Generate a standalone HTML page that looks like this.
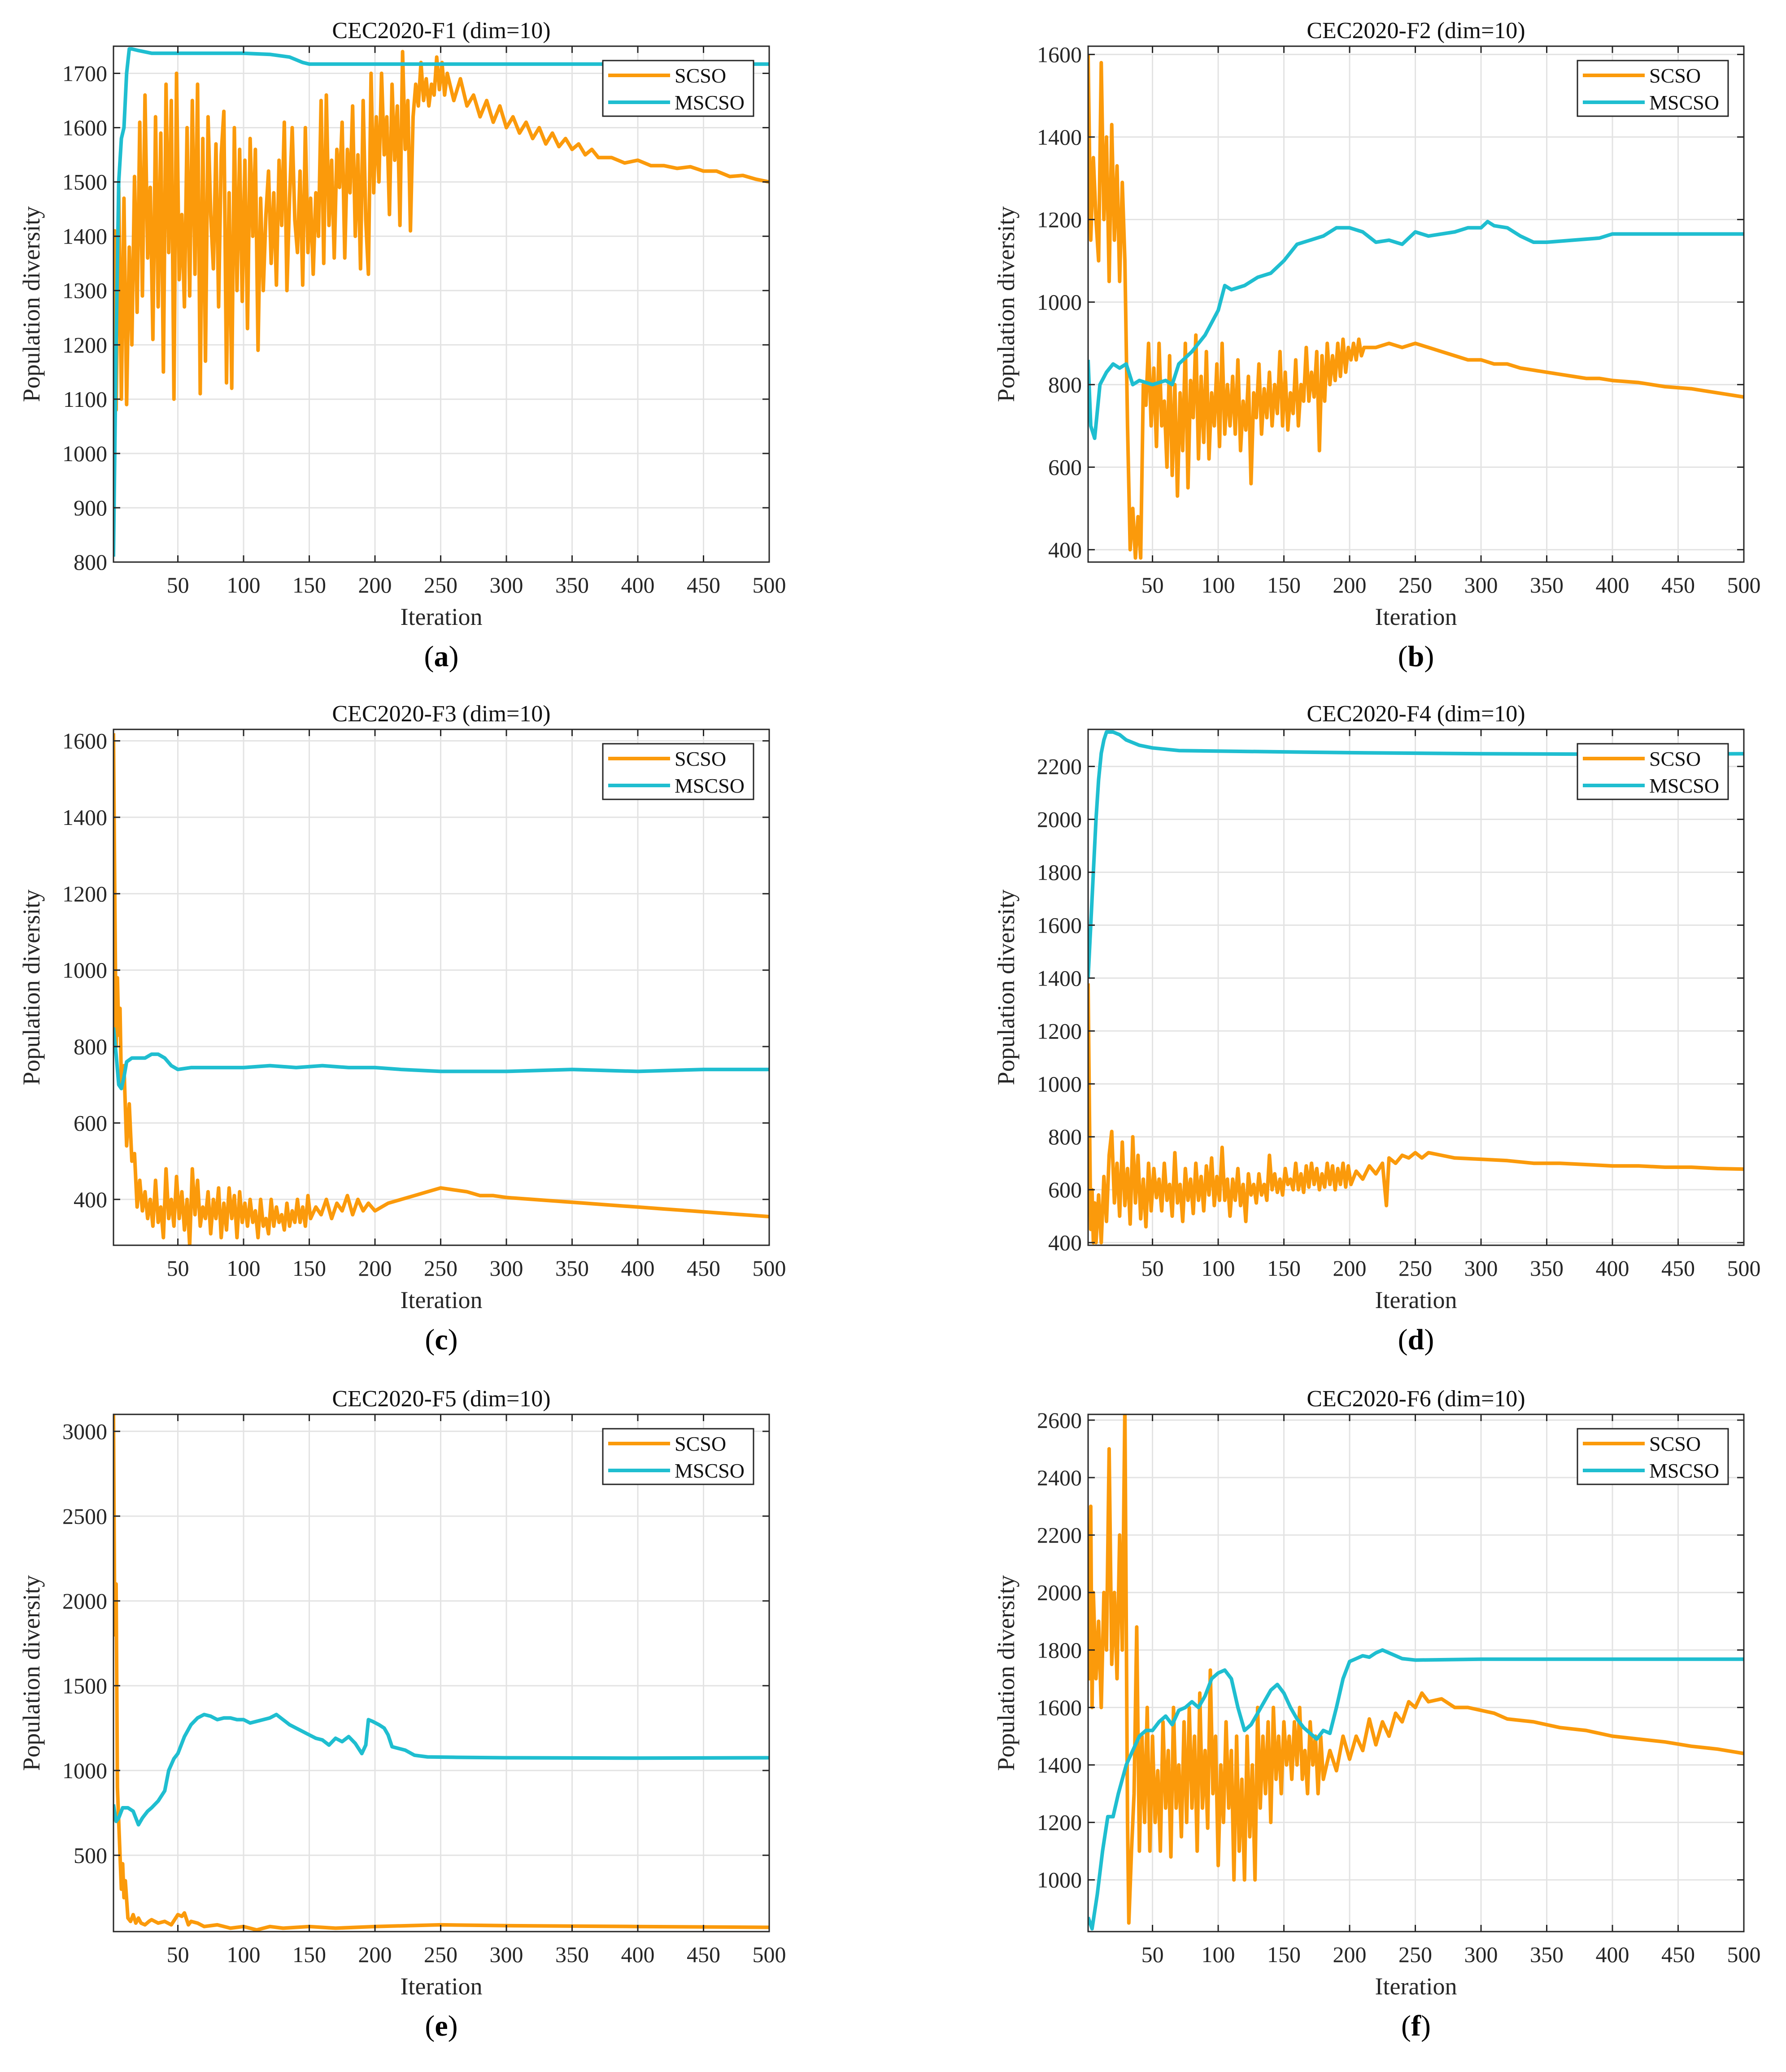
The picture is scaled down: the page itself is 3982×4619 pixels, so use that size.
<!DOCTYPE html>
<html><head><meta charset="utf-8">
<style>
html,body{margin:0;padding:0;background:#fff;}
svg{display:block;font-family:"Liberation Serif",serif;}
</style></head>
<body>
<svg id="fig" width="3982" height="4619" viewBox="0 0 3982 4619" xmlns="http://www.w3.org/2000/svg"></svg>
<script>
// ---------- data ----------
const xTicks = [50,100,150,200,250,300,350,400,450,500];
const titles = ["CEC2020-F1 (dim=10)","CEC2020-F2 (dim=10)","CEC2020-F3 (dim=10)","CEC2020-F4 (dim=10)","CEC2020-F5 (dim=10)","CEC2020-F6 (dim=10)"];
const panelLabels = ["a","b","c","d","e","f"];
const yRanges = [[800,1750],[370,1620],[280,1630],[390,2340],[50,3100],[820,2620]];
const yTicksA = [800,900,1000,1100,1200,1300,1400,1500,1600,1700];
const yTicksB = [400,600,800,1000,1200,1400,1600];
const yTicksC = [400,600,800,1000,1200,1400,1600];
const yTicksD = [400,600,800,1000,1200,1400,1600,1800,2000,2200];
const yTicksE = [500,1000,1500,2000,2500,3000];
const yTicksF = [1000,1200,1400,1600,1800,2000,2200,2400,2600];

const scsoX_A = [1,2,3,5,7,9,11,13,15,17,19,21,23,25,27,29,31,33,35,37,39,41,43,45,47,49,51,53,55,57,59,61,63,65,67,69,71,73,75,77,79,81,83,85,87,89,91,93,95,97,99,101,103,105,107,109,111,113,115,117,119,121,123,125,127,129,131,133,135,137,139,141,143,145,147,149,151,153,155,157,159,161,163,165,167,169,171,173,175,177,179,181,183,185,187,189,191,193,195,197,199,201,203,205,207,209,211,213,215,217,219,221,223,225,227,229,231,233,235,237,239,241,243,245,247,249,251,253,255,260,265,270,275,280,285,290,295,300,305,310,315,320,325,330,335,340,345,350,355,360,365,370,380,390,400,410,420,430,440,450,460,470,480,490,500];
const scsoY_A = [1300,1410,1080,1490,1100,1470,1090,1380,1200,1510,1260,1610,1290,1660,1360,1490,1210,1620,1270,1590,1150,1680,1370,1650,1100,1700,1320,1440,1270,1600,1290,1650,1330,1680,1110,1580,1170,1620,1440,1340,1570,1270,1550,1630,1130,1480,1120,1600,1300,1560,1280,1540,1230,1580,1400,1560,1190,1470,1300,1440,1520,1350,1480,1310,1540,1420,1610,1300,1470,1600,1430,1370,1520,1310,1600,1370,1470,1330,1480,1400,1650,1350,1660,1420,1540,1360,1560,1490,1610,1360,1560,1480,1640,1400,1550,1340,1650,1430,1330,1700,1480,1620,1500,1700,1550,1620,1440,1680,1540,1640,1420,1740,1560,1650,1410,1620,1680,1640,1720,1650,1690,1640,1680,1660,1730,1670,1720,1660,1700,1650,1690,1640,1660,1620,1650,1610,1640,1600,1620,1590,1610,1580,1600,1570,1590,1565,1580,1560,1570,1550,1560,1545,1545,1535,1540,1530,1530,1525,1528,1520,1520,1510,1512,1505,1500];
const mscsoX_A = [1,3,5,7,9,11,13,15,20,30,60,100,120,135,145,150,500];
const mscsoY_A = [810,1200,1500,1580,1600,1700,1745,1745,1742,1737,1737,1737,1735,1730,1720,1717,1717];

const scsoX_B = [1,3,5,7,9,11,13,15,17,19,21,23,25,27,29,31,33,35,37,39,41,43,45,47,49,51,53,55,57,59,61,63,65,67,69,71,73,75,77,79,81,83,85,87,89,91,93,95,97,99,101,103,105,107,109,111,113,115,117,119,121,123,125,127,129,131,133,135,137,139,141,143,145,147,149,151,153,155,157,159,161,163,165,167,169,171,173,175,177,179,181,183,185,187,189,191,193,195,197,199,201,203,205,207,209,211,220,230,240,250,260,270,280,290,300,310,320,330,340,350,360,370,380,390,400,420,440,460,480,500];
const scsoY_B = [1600,1150,1350,1200,1100,1580,1200,1400,1050,1430,1150,1330,1050,1290,1100,700,400,500,380,480,380,800,750,900,700,840,650,900,700,760,600,870,580,800,530,780,640,900,550,810,720,920,620,820,660,880,620,780,700,850,650,900,680,800,700,820,680,860,640,760,690,820,560,780,720,850,680,790,720,830,700,800,730,880,700,830,690,780,730,860,700,800,760,890,760,830,770,880,640,870,760,900,800,870,810,900,820,910,830,890,860,900,860,910,870,890,890,900,890,900,890,880,870,860,860,850,850,840,835,830,825,820,815,815,810,805,795,790,780,770];
const mscsoX_B = [1,3,6,10,15,20,25,30,35,40,50,60,65,70,80,90,100,105,110,120,130,140,150,160,170,180,190,200,210,220,230,240,250,260,270,280,290,300,305,310,320,330,340,350,370,390,400,500];
const mscsoY_B = [860,700,670,800,830,850,840,850,800,810,800,810,800,850,880,920,980,1040,1030,1040,1060,1070,1100,1140,1150,1160,1180,1180,1170,1145,1150,1140,1170,1160,1165,1170,1180,1180,1195,1185,1180,1160,1145,1145,1150,1155,1165,1165];

const scsoX_C = [1,2,3,4,5,6,7,9,11,13,15,17,19,21,23,25,27,29,31,33,35,37,39,41,43,45,47,49,51,53,55,57,59,61,63,65,67,69,71,73,75,77,79,81,83,85,87,89,91,93,95,97,99,101,103,105,107,109,111,113,115,117,119,121,123,125,127,129,131,133,135,137,139,141,143,145,147,149,151,155,159,163,167,171,175,179,183,187,191,195,200,210,220,230,240,250,260,270,280,290,300,320,340,360,380,400,420,440,460,480,500];
const scsoY_C = [1620,1200,800,980,830,900,700,750,540,650,500,520,380,450,370,420,350,400,330,450,340,380,300,480,350,400,330,460,350,420,320,400,280,480,360,450,330,380,350,420,310,400,350,430,300,390,320,430,350,410,300,420,340,390,330,400,340,370,300,400,330,350,310,400,330,380,340,360,320,390,330,370,340,400,340,380,330,410,350,380,360,400,350,390,370,410,360,400,370,390,370,390,400,410,420,430,425,420,410,410,405,400,395,390,385,380,375,370,365,360,355];
const mscsoX_C = [1,3,5,7,9,11,15,20,25,30,35,40,45,50,60,80,100,120,140,160,180,200,220,250,300,350,400,450,500];
const mscsoY_C = [850,780,700,690,720,760,770,770,770,780,780,770,750,740,745,745,745,750,745,750,745,745,740,735,735,740,735,740,740];

const scsoX_D = [1,2,3,4,5,6,7,9,11,13,15,17,19,21,23,25,27,29,31,33,35,37,39,41,43,45,47,49,51,53,55,57,59,61,63,65,67,69,71,73,75,77,79,81,83,85,87,89,91,93,95,97,99,101,103,105,107,109,111,113,115,117,119,121,123,125,127,129,131,133,135,137,139,141,143,145,147,149,151,153,155,157,159,161,163,165,167,169,171,173,175,177,179,181,183,185,187,189,191,193,195,197,199,201,205,210,215,220,225,228,230,235,240,245,250,255,260,270,280,300,320,340,360,380,400,420,440,460,480,500];
const scsoY_D = [1380,900,450,600,400,550,400,580,400,650,480,730,820,550,700,500,780,540,680,470,800,550,730,490,640,460,700,520,680,570,640,520,700,560,620,500,740,550,620,480,680,560,640,510,700,560,650,520,690,580,720,540,650,560,760,560,640,500,640,560,680,540,620,480,660,580,620,550,660,580,620,560,730,600,660,590,640,580,680,620,640,600,700,600,660,590,690,610,700,620,680,600,660,610,700,620,690,600,680,620,700,610,690,620,670,640,690,660,700,540,720,700,730,720,740,720,740,730,720,715,710,700,700,695,690,690,685,685,680,678];
const mscsoX_D = [1,3,5,7,9,11,13,15,20,25,30,40,50,70,100,150,200,300,400,500];
const mscsoY_D = [1400,1600,1800,2000,2150,2250,2300,2330,2330,2320,2300,2280,2270,2260,2258,2255,2252,2248,2246,2248];

const scsoX_E = [1,2,3,4,5,6,7,8,9,10,12,14,16,18,20,22,25,28,30,35,40,45,50,53,55,58,60,65,70,80,90,100,110,120,130,150,170,200,250,300,400,500];
const scsoY_E = [3100,1800,2100,900,700,500,300,450,250,350,130,110,150,100,130,100,90,110,120,100,110,90,150,140,160,90,110,100,80,90,70,80,60,80,70,80,70,80,90,85,80,75];
const mscsoX_E = [1,3,5,8,12,16,18,20,23,27,30,35,40,43,47,50,55,60,65,70,75,80,85,90,95,100,105,110,115,120,125,130,135,140,145,150,155,160,165,170,175,180,185,190,193,195,198,203,207,210,213,218,223,230,240,260,300,400,500];
const mscsoY_E = [800,700,720,780,780,760,720,680,720,760,780,820,880,1000,1070,1100,1200,1270,1310,1330,1320,1300,1310,1310,1300,1300,1280,1290,1300,1310,1330,1300,1270,1250,1230,1210,1190,1180,1150,1190,1170,1200,1160,1100,1150,1300,1290,1270,1250,1210,1140,1130,1120,1090,1080,1078,1075,1073,1075];

const scsoX_F = [1,2,3,4,5,7,9,11,13,15,17,19,21,23,25,27,29,31,32,34,36,38,40,42,44,46,48,50,52,54,56,58,60,62,64,66,68,70,72,74,76,78,80,82,84,86,88,90,92,94,96,98,100,102,104,106,108,110,112,114,116,118,120,122,124,126,128,130,132,134,136,138,140,142,144,146,148,150,152,154,156,158,160,162,164,166,168,170,172,174,176,178,180,185,190,195,200,205,210,215,220,225,230,235,240,245,250,255,260,270,280,290,300,310,320,340,360,380,400,420,440,460,480,500];
const scsoY_F = [1900,1700,2300,1600,2000,1700,1900,1600,2000,1800,2500,1750,2000,1700,2200,1800,2650,1200,850,1100,1300,1880,1100,1500,1200,1600,1100,1500,1200,1380,1100,1550,1250,1450,1080,1600,1250,1400,1150,1550,1200,1600,1250,1500,1100,1650,1250,1450,1180,1730,1300,1500,1050,1400,1200,1550,1250,1450,1000,1500,1100,1350,1000,1500,1150,1400,1000,1600,1250,1500,1300,1550,1200,1600,1350,1500,1300,1550,1400,1500,1350,1550,1400,1600,1350,1450,1300,1550,1400,1500,1300,1500,1350,1450,1380,1500,1420,1500,1450,1560,1470,1550,1500,1580,1550,1620,1600,1650,1620,1630,1600,1600,1590,1580,1560,1550,1530,1520,1500,1490,1480,1465,1455,1440];
const mscsoX_F = [1,4,8,12,16,20,24,30,35,40,45,50,55,60,65,70,75,80,85,90,95,100,105,110,115,120,125,130,135,140,145,150,155,160,165,170,175,180,185,190,195,200,205,210,215,220,225,230,235,240,250,300,400,500];
const mscsoY_F = [870,830,950,1100,1220,1220,1300,1400,1450,1500,1520,1520,1550,1570,1540,1590,1600,1620,1600,1640,1700,1720,1730,1700,1600,1520,1540,1580,1620,1660,1680,1650,1600,1560,1530,1510,1490,1520,1510,1600,1700,1760,1770,1780,1775,1790,1800,1790,1780,1770,1765,1768,1768,1768];

// ---------- layout ----------
const svg = document.getElementById('fig');
const NS = 'http://www.w3.org/2000/svg';
const colX = [[253,1715],[2426,1715+2173]];
const rowY = [[103,1253],[1626,2776],[3153,4306]];
const yTickSets = [yTicksA,yTicksB,yTicksC,yTicksD,yTicksE,yTicksF];
const series = [
  [scsoX_A,scsoY_A,mscsoX_A,mscsoY_A],
  [scsoX_B,scsoY_B,mscsoX_B,mscsoY_B],
  [scsoX_C,scsoY_C,mscsoX_C,mscsoY_C],
  [scsoX_D,scsoY_D,mscsoX_D,mscsoY_D],
  [scsoX_E,scsoY_E,mscsoX_E,mscsoY_E],
  [scsoX_F,scsoY_F,mscsoX_F,mscsoY_F]
];
const ORANGE = '#fb9a0b', CYAN = '#1fbed0';

function el(tag, attrs, parent){
  const e = document.createElementNS(NS, tag);
  for (const k in attrs) e.setAttribute(k, attrs[k]);
  (parent||svg).appendChild(e);
  return e;
}

for (let p = 0; p < 6; p++) {
  const [L, R] = colX[p % 2];
  const [T, B] = rowY[Math.floor(p / 2)];
  const [ymin, ymax] = yRanges[p];
  const sx = v => L + (v - 1) / 499 * (R - L);
  const sy = v => B - (v - ymin) / (ymax - ymin) * (B - T);
  const g = el('g', {});
  
  

  // grid
  for (const t of xTicks) {
    const ln = el('line', {x1:sx(t), x2:sx(t), y1:T, y2:B, stroke:'#e3e3e3', 'stroke-width':3}, g);
    
    
  }
  for (const t of yTickSets[p]) {
    const ln = el('line', {x1:L, x2:R, y1:sy(t), y2:sy(t), stroke:'#e3e3e3', 'stroke-width':3}, g);
    
    
  }
  // series
  const clipId = 'clip' + p;
  const cp = el('clipPath', {id: clipId}, g);
  el('rect', {x:L, y:T, width:R-L, height:B-T}, cp);
  const s = series[p];
  const mk = (xs, ys, color, name) => {
    let d = '';
    for (let i = 0; i < xs.length; i++) d += (i ? 'L' : 'M') + sx(xs[i]).toFixed(1) + ',' + sy(ys[i]).toFixed(1);
    const path = el('path', {d:d, fill:'none', stroke:color, 'stroke-width':8, 'stroke-linejoin':'round', 'clip-path':'url(#'+clipId+')'}, g);
    
    
  };
  mk(s[0], s[1], ORANGE, 'scso-line');
  mk(s[2], s[3], CYAN, 'mscso-line');

  // axes box
  const box = el('rect', {x:L, y:T, width:R-L, height:B-T, fill:'none', stroke:'#262626', 'stroke-width':3}, g);
  
  

  // ticks + labels
  for (const t of xTicks) {
    el('line', {x1:sx(t), x2:sx(t), y1:B, y2:B-15, stroke:'#262626', 'stroke-width':3}, g);
    el('line', {x1:sx(t), x2:sx(t), y1:T, y2:T+15, stroke:'#262626', 'stroke-width':3}, g);
    const tx = el('text', {x:sx(t), y:B+68, 'font-size':50, 'text-anchor':'middle', fill:'#262626'}, g);
    tx.textContent = t;
    
    
  }
  for (const t of yTickSets[p]) {
    el('line', {x1:L, x2:L+15, y1:sy(t), y2:sy(t), stroke:'#262626', 'stroke-width':3}, g);
    el('line', {x1:R, x2:R-15, y1:sy(t), y2:sy(t), stroke:'#262626', 'stroke-width':3}, g);
    const tx = el('text', {x:L-14, y:sy(t)+17, 'font-size':50, 'text-anchor':'end', fill:'#262626'}, g);
    tx.textContent = t;
    
    
  }
  const cx = (L + R) / 2;
  const title = el('text', {x:cx, y:T-18, 'font-size':52, 'text-anchor':'middle', fill:'#111'}, g);
  title.textContent = titles[p];
  
  

  const xl = el('text', {x:cx, y:B+140, 'font-size':54, 'text-anchor':'middle', fill:'#262626'}, g);
  xl.textContent = 'Iteration';
  
  

  const yx = L - 165, yy = (T + B) / 2;
  const yl = el('text', {x:yx, y:yy, 'font-size':54, 'text-anchor':'middle', fill:'#262626', transform:'rotate(-90 '+yx+' '+yy+')'}, g);
  yl.textContent = 'Population diversity';
  
  

  const pl = el('text', {x:cx, y:B+232, 'font-size':66, 'text-anchor':'middle', fill:'#000'}, g);
  pl.innerHTML = '(<tspan font-weight="bold">' + panelLabels[p] + '</tspan>)';
  
  

  // legend
  const lw = 336, lh = 124, lx = R - 35 - lw, ly = T + 32;
  const lg = el('g', {}, g);
  
  
  el('rect', {x:lx, y:ly, width:lw, height:lh, fill:'#fff', stroke:'#262626', 'stroke-width':3}, lg);
  const entries = [['SCSO', ORANGE], ['MSCSO', CYAN]];
  entries.forEach((en, i) => {
    const ey = ly + 33 + i * 60;
    el('line', {x1:lx+12, x2:lx+150, y1:ey, y2:ey, stroke:en[1], 'stroke-width':8}, lg);
    const t = el('text', {x:lx+160, y:ey+16, 'font-size':46, fill:'#111'}, lg);
    t.textContent = en[0];
    
    
  });
}
</script>
</body></html>
